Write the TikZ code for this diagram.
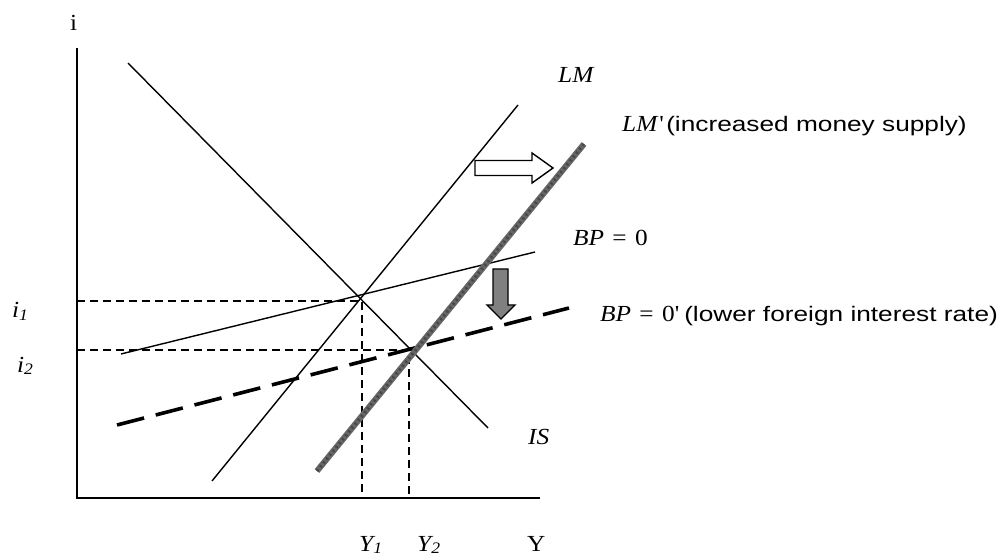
\documentclass[tikz,border=0pt]{standalone}
\usepackage{fontspec}
\setmainfont{Liberation Serif}
\newfontfamily\arial{Liberation Sans}
\newcommand{\sbs}[1]{\raisebox{-0.28ex}{\fontsize{16}{16}\selectfont #1}}
\newcommand{\eqsp}{\hspace{0.33em}}
\begin{document}
\begin{tikzpicture}[x=1pt,y=-1pt,
  axis/.style={line width=2pt},
  curve/.style={line width=1.4pt},
  guide/.style={line width=1.3pt, dash pattern=on 8pt off 5pt},
  newbp/.style={line width=3.6pt, dash pattern=on 28pt off 12pt},
  newlm/.style={line width=6pt, color=black!60},
  lbl/.style={inner sep=0pt, anchor=base west, font=\fontsize{23}{23}\selectfont, xscale=1.1},
  slbl/.style={inner sep=0pt, anchor=base west, font=\arial\fontsize{21}{21}\selectfont, xscale=1.25},
  hollow/.style={draw=black, line width=1.4pt, fill=white},
  shift arrow/.style={draw=black, line width=1.4pt, fill=black!50}
]
\useasboundingbox (0,0) rectangle (1002,556);
% coordinates
\coordinate (O) at (77,498);
\coordinate (ytop) at (77,48);
\coordinate (xend) at (540,498);
\coordinate (is1) at (128,63);
\coordinate (is2) at (488,428);
\coordinate (lm1) at (212,481);
\coordinate (lm2) at (518,105);
\coordinate (lmp1) at (317,471);
\coordinate (lmp2) at (584,144);
\coordinate (bp1) at (121,354);
\coordinate (bp2) at (535,252);
\coordinate (bpp1) at (117,425);
\coordinate (bpp2) at (569,308);
\coordinate (e1) at (362,301);
\coordinate (e2) at (409,350);
\coordinate (i1a) at (77,301);
\coordinate (i2a) at (77,350);
\coordinate (y1a) at (362,498);
\coordinate (y2a) at (409,498);
% guides
\draw[guide] (i1a) -- (e1) -- (y1a);
\draw[guide] (i2a) -- (e2) -- (y2a);
% curves
\draw[curve] (is1) -- (is2);
\draw[curve] (lm1) -- (lm2);
\draw[curve] (bp1) -- (bp2);
\draw[newbp] (bpp1) -- (bpp2);
\draw[newlm] (lmp1) -- (lmp2);
\draw[line width=3pt, color=black!72, dash pattern=on 2pt off 3pt] (lmp1) -- (lmp2);
% axes
\draw[axis] (ytop) -- (O) -- (xend);
% arrows
\draw[hollow] (475,160.5) -- (532,160.5) -- (532,153) -- (553,168) -- (532,183) -- (532,175.5) -- (475,175.5) -- cycle;
\draw[shift arrow] (493,269) -- (508,269) -- (508,305) -- (515,305) -- (501,319) -- (487,305) -- (493,305) -- cycle;
% labels
\node[lbl] (li) at (70,31) {i};
\node[lbl] (llm) at (558,83) {\itshape LM};
\node[lbl] (llmp) at (622,132) {\itshape LM\hspace{0.08em}\upshape\textquotesingle};
\node[slbl] (tlmp) at (666,132) {(increased money supply)};
\node[lbl] (lbp) at (573,246) {\itshape BP\upshape\eqsp=\eqsp0};
\node[lbl] (lbpp) at (600,322) {\itshape BP\upshape\eqsp=\eqsp0\textquotesingle};
\node[slbl] (tbpp) at (684,322) {(lower foreign interest rate)};
\node[lbl] (lis) at (528,444) {\itshape IS};
\node[lbl] (li1) at (12,318) {\itshape i\sbs{1}};
\node[lbl] (li2) at (17,372) {\itshape i\sbs{2}};
\node[lbl] (ly1) at (359,551) {\itshape Y\sbs{1}};
\node[lbl] (ly2) at (417,551) {\itshape Y\sbs{2}};
\node[lbl] (ly) at (527,551) {Y};
\end{tikzpicture}
\end{document}
